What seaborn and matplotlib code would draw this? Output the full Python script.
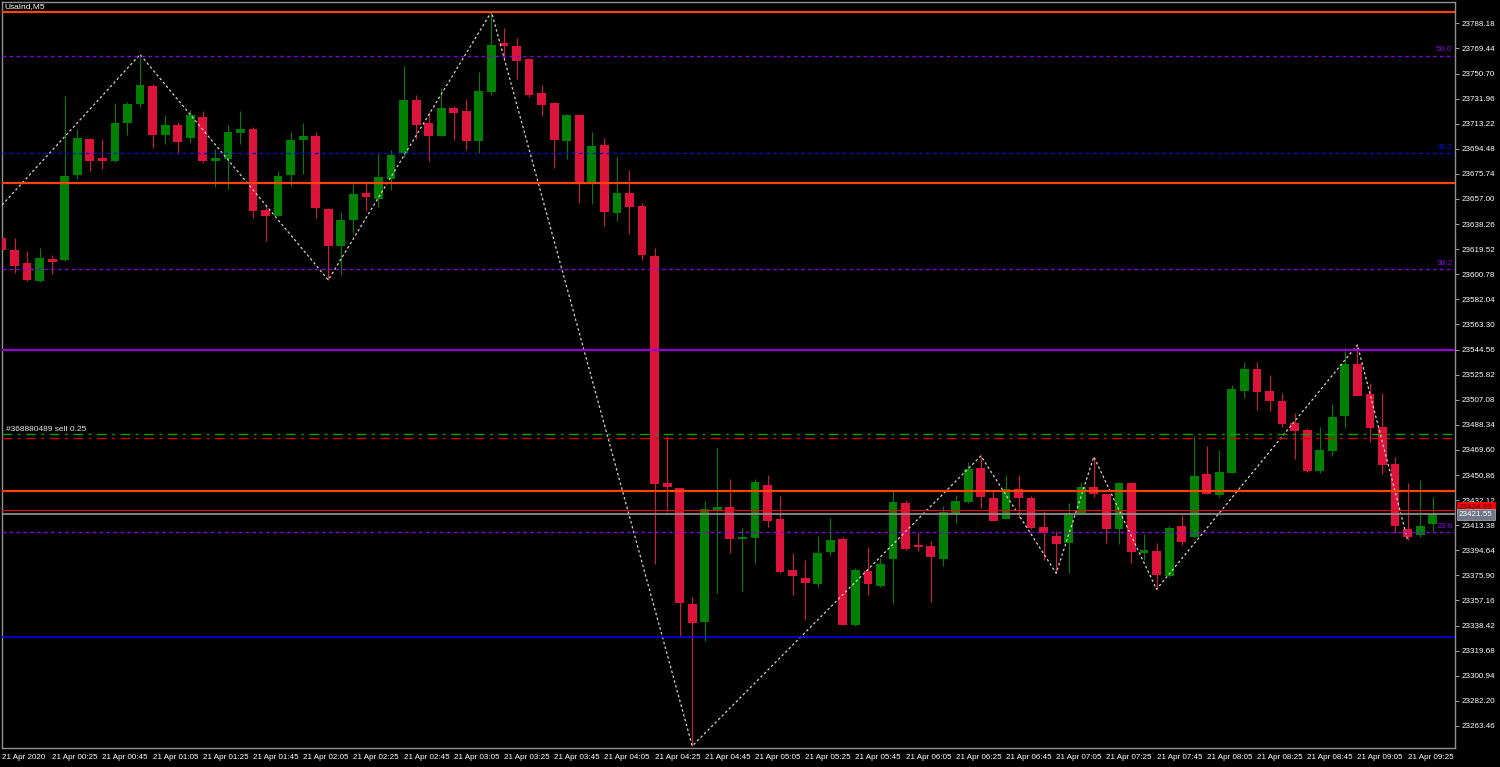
import numpy as np
import pandas as pd
import matplotlib
matplotlib.use("Agg")
import matplotlib.pyplot as plt
import seaborn as sns

# --- Chart data (UsaInd, M5, 21 Apr 2020 00:05 .. 09:35) ---
opens = [
    23628.1, 23618.9, 23609.0, 23596.0, 23612.2, 23611.4, 23675.1, 23701.6, 23687.4, 23685.1,
    23714.0, 23728.2, 23741.4, 23705.0, 23712.5, 23702.8, 23718.2, 23685.3, 23686.8, 23706.5,
    23709.5, 23648.8, 23644.3, 23675.1, 23701.0, 23704.0, 23649.3, 23622.1, 23641.3, 23661.5,
    23657.2, 23672.1, 23691.3, 23730.7, 23713.7, 23704.2, 23724.9, 23722.5, 23700.5, 23737.1,
    23773.2, 23771.5, 23761.5, 23735.9, 23728.9, 23700.5, 23719.5, 23669.2, 23697.1, 23646.5,
    23661.2, 23651.7, 23614.4, 23444.7, 23440.9, 23354.5, 23341.3, 23424.7, 23427.2, 23403.3,
    23404.1, 23443.4, 23417.8, 23379.9, 23373.9, 23369.5, 23393.6, 23402.9, 23338.9, 23379.2,
    23368.0, 23388.2, 23429.7, 23398.6, 23397.9, 23388.2, 23422.0, 23431.0, 23455.9, 23433.5,
    23418.0, 23440.2, 23433.5, 23412.3, 23405.3, 23399.9, 23422.3, 23442.1, 23436.7, 23410.3,
    23444.7, 23392.9, 23394.4, 23375.4, 23412.8, 23404.8, 23451.4, 23436.0, 23452.6, 23513.6,
    23530.2, 23513.6, 23506.2, 23489.5, 23484.5, 23454.1, 23469.0, 23495.0, 23533.8, 23511.1,
    23486.9, 23458.9, 23410.8, 23406.1, 23414.0]
highs = [
    23629.4, 23627.6, 23618.1, 23620.6, 23615.2, 23733.9, 23709.5, 23702.5, 23701.6, 23728.9,
    23729.4, 23764.9, 23742.9, 23719.7, 23714.7, 23723.4, 23722.7, 23694.1, 23712.2, 23722.7,
    23710.5, 23652.7, 23677.7, 23706.8, 23713.7, 23706.8, 23650.5, 23647.3, 23668.2, 23668.7,
    23690.6, 23693.6, 23756.5, 23734.9, 23722.2, 23739.6, 23726.4, 23731.7, 23751.8, 23796.8,
    23784.4, 23777.0, 23761.6, 23742.1, 23729.6, 23720.5, 23719.6, 23706.8, 23702.8, 23688.3,
    23678.6, 23653.8, 23620.2, 23480.0, 23440.9, 23359.5, 23431.5, 23470.8, 23447.7, 23411.1,
    23447.7, 23450.7, 23435.2, 23392.4, 23387.4, 23405.3, 23418.5, 23404.4, 23381.2, 23396.9,
    23388.7, 23439.7, 23432.2, 23407.3, 23401.6, 23427.7, 23436.0, 23460.6, 23465.1, 23439.7,
    23450.9, 23450.9, 23435.2, 23424.0, 23409.3, 23429.7, 23445.9, 23464.5, 23436.8, 23444.8,
    23444.8, 23406.6, 23400.3, 23412.8, 23421.0, 23480.0, 23472.5, 23469.5, 23518.1, 23535.5,
    23535.2, 23525.3, 23511.9, 23497.0, 23485.7, 23486.5, 23503.9, 23545.5, 23548.0, 23519.8,
    23512.3, 23464.1, 23444.7, 23447.1, 23434.2]
lows = [
    23618.1, 23601.5, 23596.0, 23595.0, 23601.0, 23610.7, 23672.1, 23677.9, 23679.6, 23684.9,
    23704.8, 23725.9, 23695.1, 23698.0, 23690.4, 23699.0, 23684.1, 23666.2, 23664.2, 23698.0,
    23643.0, 23625.8, 23644.0, 23666.9, 23675.9, 23643.0, 23596.5, 23600.4, 23631.4, 23648.2,
    23651.2, 23663.7, 23688.6, 23702.0, 23685.3, 23704.0, 23701.0, 23693.3, 23691.6, 23734.6,
    23760.8, 23746.6, 23733.4, 23719.0, 23680.4, 23686.8, 23654.2, 23653.5, 23637.0, 23640.6,
    23631.1, 23611.4, 23384.4, 23423.5, 23330.6, 23248.5, 23327.1, 23362.5, 23392.4, 23364.3,
    23384.2, 23412.3, 23378.0, 23361.3, 23342.6, 23367.5, 23390.6, 23338.6, 23338.1, 23361.3,
    23367.5, 23354.5, 23395.2, 23394.4, 23356.3, 23382.9, 23415.3, 23430.2, 23426.5, 23416.6,
    23418.0, 23419.0, 23410.9, 23387.4, 23377.5, 23377.4, 23422.0, 23434.7, 23400.3, 23399.4,
    23385.4, 23387.4, 23365.5, 23374.5, 23398.6, 23404.6, 23436.5, 23434.7, 23452.4, 23508.6,
    23499.4, 23498.9, 23486.9, 23462.6, 23453.3, 23452.6, 23465.1, 23485.7, 23509.7, 23475.7,
    23451.4, 23407.3, 23402.4, 23404.4, 23407.8]
closes = [
    23618.9, 23607.2, 23596.5, 23612.9, 23610.2, 23674.4, 23702.5, 23685.1, 23685.3, 23713.7,
    23727.9, 23741.9, 23705.0, 23712.2, 23699.3, 23719.7, 23685.1, 23687.8, 23706.8, 23709.2,
    23648.2, 23644.1, 23674.4, 23701.0, 23703.8, 23650.0, 23622.1, 23641.5, 23660.7, 23658.2,
    23673.2, 23690.1, 23730.7, 23712.0, 23704.2, 23724.9, 23721.4, 23700.5, 23737.6, 23772.0,
    23771.5, 23760.0, 23734.6, 23727.2, 23701.0, 23719.5, 23668.4, 23696.6, 23647.0, 23661.2,
    23651.2, 23615.2, 23443.9, 23442.1, 23355.5, 23340.1, 23425.3, 23427.2, 23403.1, 23404.4,
    23445.9, 23416.8, 23378.2, 23375.4, 23370.0, 23392.4, 23402.4, 23338.9, 23379.9, 23369.5,
    23384.2, 23430.5, 23395.4, 23397.3, 23389.4, 23423.5, 23431.5, 23455.1, 23434.7, 23416.8,
    23440.4, 23433.5, 23411.1, 23407.8, 23399.4, 23422.3, 23442.1, 23436.5, 23410.5, 23444.7,
    23393.6, 23394.9, 23376.2, 23411.1, 23401.1, 23450.1, 23436.7, 23452.9, 23514.9, 23530.2,
    23513.1, 23506.4, 23489.0, 23484.0, 23454.1, 23469.5, 23494.0, 23533.8, 23509.9, 23485.7,
    23458.3, 23413.0, 23404.8, 23413.0, 23421.7]

# zigzag swing points (bar index, price)
zz_bars = [0, 11, 26, 39, 55, 78, 84, 87, 92, 108, 112]
zz_prices = [23652.5, 23764.9, 23596.5, 23796.8, 23248.5, 23465.1,
             23377.5, 23464.5, 23365.5, 23548.0, 23402.4]

# horizontal objects
orange_levels = [23796.8, 23669.2, 23439.2]
violet_level = 23544.56
blue_level = 23329.9
fib_levels = [23763.8, 23691.1, 23604.5, 23408.1]
fib_labels = ["50.0", "38.2", "38.2", "23.6"]
fib_colors = ["#8A00E6", "#0010D0", "#8A00E6", "#8A00E6"]
order_tp = 23481.6
order_open = 23478.6
order_text = "#368880489 sell 0.25"
ask_price = 23424.93
bid_price = 23421.55

y_tick_labels = ["23788.18", "23769.44", "23750.70", "23731.96", "23713.22", "23694.48",
                 "23675.74", "23657.00", "23638.26", "23619.52", "23600.78", "23582.04",
                 "23563.30", "23544.56", "23525.82", "23507.08", "23488.34", "23469.60",
                 "23450.86", "23432.12", "23413.38", "23394.64", "23375.90", "23357.16",
                 "23338.42", "23319.68", "23300.94", "23282.20", "23263.46"]
x_tick_labels = ["21 Apr 2020", "21 Apr 00:25", "21 Apr 00:45", "21 Apr 01:05", "21 Apr 01:25",
                 "21 Apr 01:45", "21 Apr 02:05", "21 Apr 02:25", "21 Apr 02:45", "21 Apr 03:05",
                 "21 Apr 03:25", "21 Apr 03:45", "21 Apr 04:05", "21 Apr 04:25", "21 Apr 04:45",
                 "21 Apr 05:05", "21 Apr 05:25", "21 Apr 05:45", "21 Apr 06:05", "21 Apr 06:25",
                 "21 Apr 06:45", "21 Apr 07:05", "21 Apr 07:25", "21 Apr 07:45", "21 Apr 08:05",
                 "21 Apr 08:25", "21 Apr 08:45", "21 Apr 09:05", "21 Apr 09:25"]

df = pd.DataFrame({"open": opens, "high": highs, "low": lows, "close": closes})
df["bar"] = np.arange(len(df))
df["bull"] = df["close"] >= df["open"]

BULL = "#008000"
BEAR = "#DC143C"

sns.set_style("dark", rc={"axes.facecolor": "black", "figure.facecolor": "black"})
plt.rcParams["font.family"] = ["Liberation Sans Narrow", "Liberation Sans", "DejaVu Sans"]

fig = plt.figure(figsize=(15, 7.67), dpi=100)
ax = fig.add_axes([2 / 1500, 1 - 748 / 767, 1453 / 1500, 746 / 767])
ax.set_facecolor("black")

# candles
colors = np.where(df["bull"], BULL, BEAR)
ax.vlines(df["bar"], df["low"], df["high"], colors=colors, linewidth=0.75, zorder=2)
body_lo = df[["open", "close"]].min(axis=1)
body_h = (df["close"] - df["open"]).abs().clip(lower=0.8)
ax.bar(df["bar"], body_h, bottom=body_lo, width=0.7, color=colors, linewidth=0, zorder=3)

# zigzag
sns.lineplot(x=zz_bars, y=zz_prices, ax=ax, color="#D8D2C4", linewidth=0.9,
             linestyle=(0, (2, 2)), sort=False, zorder=4)

# level lines
for lv in orange_levels:
    ax.axhline(lv, color="#FF4500", linewidth=1.6, zorder=5)
ax.axhline(violet_level, color="#9400D3", linewidth=1.6, zorder=5)
ax.axhline(blue_level, color="#0000FF", linewidth=1.1, zorder=5)
for lv, lab, col in zip(fib_levels, fib_labels, fib_colors):
    ax.axhline(lv, color=col, linewidth=1.0, linestyle=(0, (2.5, 2.5)), zorder=5)
    ax.text(115.6, lv + 2.0, lab, color=col, fontsize=6, ha="right", va="bottom", zorder=6)

ax.axhline(order_tp, color="#00A000", linewidth=1.0, linestyle=(0, (7, 4, 2, 4)), zorder=5)
ax.axhline(order_open, color="#D00000", linewidth=1.0, linestyle=(0, (7, 4, 2, 4)), zorder=5)
ax.text(0.3, order_tp + 1.0, order_text, color="#E8E8E8", fontsize=6,
        ha="left", va="bottom", zorder=6)

ax.axhline(ask_price, color="#FF0000", linewidth=0.8, zorder=5)
ax.axhline(bid_price, color="#8C8C8C", linewidth=1.3, zorder=5)

# axes
ax.set_xlim(0, 115.78)
ax.set_ylim(23247.0, 23804.1)
for sp in ax.spines.values():
    sp.set_color("#909090")
    sp.set_linewidth(1.0)
ax.yaxis.tick_right()
ax.set_yticks([float(t) for t in y_tick_labels])
ax.set_yticklabels(y_tick_labels)
ax.set_xticks(np.arange(0, 4 * len(x_tick_labels), 4))
ax.set_xticklabels(x_tick_labels, ha="left")
ax.tick_params(axis="both", colors="#A0A0A0", labelcolor="white", labelsize=5.8,
               length=3, width=0.7, pad=1.5)
ax.grid(False)
ax.set_xlabel("")
ax.set_ylabel("")

# price boxes on the scale
tr = ax.get_yaxis_transform()
ax.text(1.0028, ask_price + 2.0, f"{ask_price:.2f}", transform=tr, color="#300000",
        fontsize=5.8, ha="left", va="center", clip_on=False, zorder=10,
        bbox=dict(boxstyle="square,pad=0.25", fc="#FF0000", ec="#FF0000", lw=0.5))
ax.text(1.0028, bid_price, f"{bid_price:.2f}", transform=tr, color="white",
        fontsize=5.8, ha="left", va="center", clip_on=False, zorder=11,
        bbox=dict(boxstyle="square,pad=0.25", fc="#6E7886", ec="#B0B8C0", lw=0.5))

fig.text(4 / 1500, 1 - 7 / 767, "UsaInd,M5", color="white", fontsize=6,
         ha="left", va="center")

fig.savefig("out.png", dpi=100, facecolor="black")
